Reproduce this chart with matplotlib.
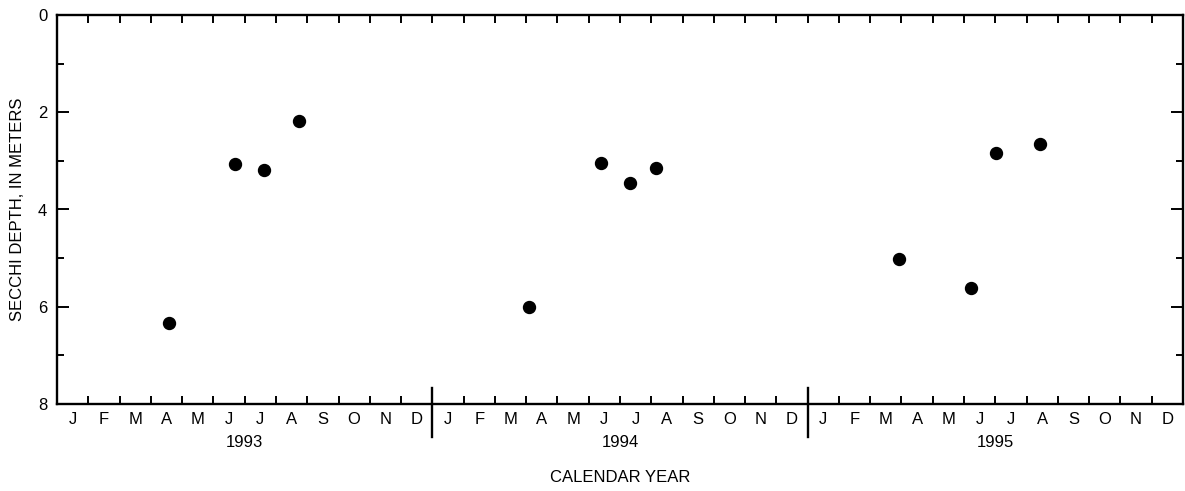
import matplotlib.pyplot as plt
import matplotlib.transforms as mtransforms
import numpy as np
import pandas as pd

# sampling dates and Secchi depths (m)
dates = ['1993-04-18', '1993-06-22', '1993-07-20', '1993-08-24',
         '1994-04-04', '1994-06-13', '1994-07-11', '1994-08-06',
         '1995-03-30', '1995-06-08', '1995-07-02', '1995-08-14']
depth = [6.34, 3.06, 3.18, 2.18,
         6.01, 3.04, 3.45, 3.14,
         5.02, 5.61, 2.84, 2.65]

years = [1993, 1994, 1995]
month_letters = ['J', 'F', 'M', 'A', 'M', 'J', 'J', 'A', 'S', 'O', 'N', 'D']

plt.rcParams['font.family'] = ['Liberation Sans', 'DejaVu Sans']
fs = 12


def month_position(d):
    # months elapsed since 1 Jan of the first year, with day fraction
    d = pd.Timestamp(d)
    return (d.year - years[0]) * 12 + (d.month - 1) + (d.day - 1) / d.days_in_month


x = np.array([month_position(d) for d in dates])
n_months = 12 * len(years)

fig = plt.figure(figsize=(11.85, 4.91), dpi=100)
ax = fig.add_axes([57 / 1185, 87 / 491, 1126 / 1185, 389 / 491])

ax.plot(x, depth, 'o', color='black', markersize=8.6, clip_on=False)

ax.set_xlim(0, n_months)
ax.set_ylim(8, 0)

# month boundaries as ticks, letters centred between them
ax.set_xticks(np.arange(1, n_months))
ax.set_xticklabels([])
ax.set_xticks(np.arange(n_months) + 0.5, minor=True)
ax.set_xticklabels(month_letters * len(years), minor=True, fontsize=fs)
ax.tick_params(axis='x', which='major', direction='in', length=6, width=1.4,
               top=True, bottom=True)
ax.tick_params(axis='x', which='minor', length=0, pad=6)

ax.set_yticks([0, 2, 4, 6, 8])
ax.set_yticks([1, 3, 5, 7], minor=True)
ax.tick_params(axis='y', which='major', direction='in', length=8.6, width=1.4,
               left=True, right=True, labelsize=fs, pad=7)
ax.tick_params(axis='y', which='minor', direction='in', length=4.7, width=1.4,
               left=True, right=True)

for s in ax.spines.values():
    s.set_linewidth(1.7)

trans = mtransforms.blended_transform_factory(ax.transData, ax.transAxes)
for i in range(1, len(years)):
    ax.plot([12 * i, 12 * i], [0.041, -0.085], color='black', lw=1.7,
            transform=trans, clip_on=False)
for i, yr in enumerate(years):
    ax.text(12 * i + 6, -0.098, str(yr), transform=trans, ha='center',
            va='center', fontsize=fs)

ax.text(0.5, -0.19, 'CALENDAR YEAR', transform=ax.transAxes, ha='center',
        va='center', fontsize=fs)
fig.text(18 / 1185, 0.573, 'SECCHI DEPTH, IN METERS', rotation=90,
         ha='center', va='center', fontsize=fs)

fig.savefig('out.png', dpi=100)
